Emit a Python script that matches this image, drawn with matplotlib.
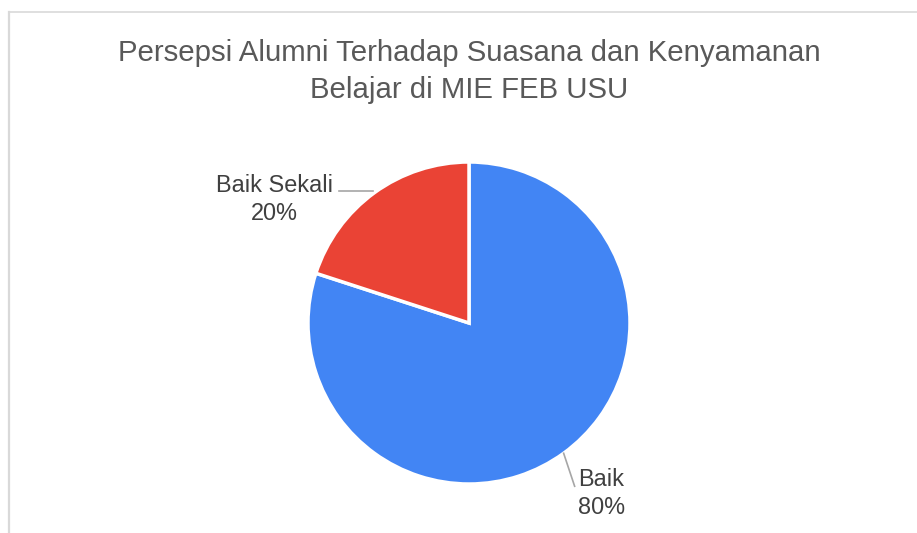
import numpy as np
import matplotlib.pyplot as plt

plt.rcParams['font.family'] = ['Liberation Sans', 'DejaVu Sans']

title = "Persepsi Alumni Terhadap Suasana dan Kenyamanan\nBelajar di MIE FEB USU"
categories = ["Baik", "Baik Sekali"]
values = [80, 20]
colors = ["#4285F4", "#EA4335"]

W, H = 917, 533
fig = plt.figure(figsize=(W / 100, H / 100), dpi=100)
ax = fig.add_axes([0, 0, 1, 1])
ax.axis('off')

cx, cy, r = 469, H - 323, 161
wedges, _ = ax.pie(values, colors=colors, startangle=90, counterclock=False,
                   center=(cx, cy), radius=r,
                   wedgeprops=dict(edgecolor='white', linewidth=2.5))
ax.set_xlim(0, W)
ax.set_ylim(0, H)
ax.set_aspect('equal')

# frame lines (partial chart border)
ax.plot([9, W], [H - 12, H - 12], color='#d9d9d9', lw=1.2, clip_on=False)
ax.plot([9, 9], [H - 12, 0], color='#d9d9d9', lw=1.6, clip_on=False)

for i, line in enumerate(title.split('\n')):
    ax.text(469, H - 53 - 37 * i, line, ha='center', va='center',
            fontsize=21.2, color='#595959')

total = sum(values)
txt_col = '#404040'
lab_col = '#a6a6a6'
for w, cat, v in zip(wedges, categories, values):
    mid = np.deg2rad((w.theta1 + w.theta2) / 2)
    ex, ey = cx + r * np.cos(mid), cy + r * np.sin(mid)
    lines = [cat, f"{round(v / total * 100)}%"]
    if np.cos(mid) < 0:
        ax.plot([ex - 1, 339], [ey + 2, ey + 2], color=lab_col, lw=1.2)
        for j, s in enumerate(lines):
            ax.text(274, H - 185 - 28 * j, s, ha='center', va='center',
                    fontsize=16.9, color=txt_col)
    else:
        ax.plot([ex, ex + 11], [ey, ey - 33], color=lab_col, lw=1.2)
        for j, s in enumerate(lines):
            ax.text(578, H - 479 - 29 * j, s, ha='left', va='center',
                    fontsize=16.9, color=txt_col)

fig.savefig('out.png', dpi=100, facecolor='white')
